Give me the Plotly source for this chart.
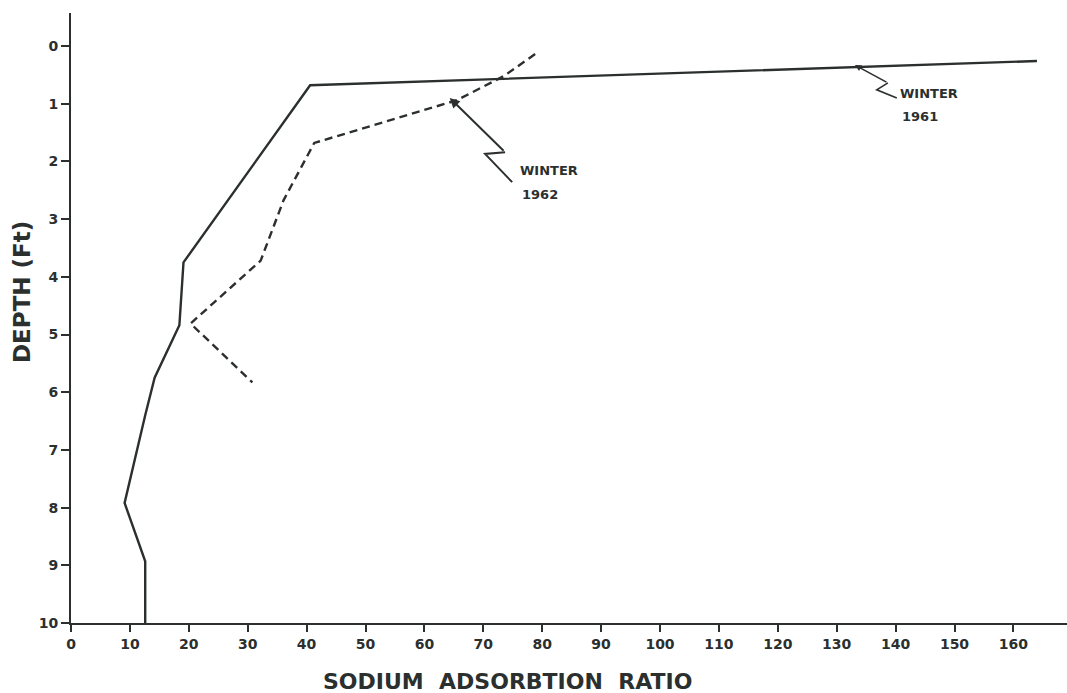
import plotly.graph_objects as go

# Winter 1961 (solid)
sar_1961 = [164, 40.6, 19.1, 18.4, 14.2, 12.6, 9.1, 12.6, 12.6]
depth_1961 = [0.26, 0.68, 3.75, 4.84, 5.75, 6.4, 7.92, 8.93, 10.0]

# Winter 1962 (dashed)
sar_1962 = [78.8, 73.5, 65.5, 41.3, 36.1, 32.2, 20.3, 30.8]
depth_1962 = [0.14, 0.52, 0.94, 1.68, 2.67, 3.72, 4.81, 5.83]

x_ticks = list(range(0, 170, 10))
y_ticks = list(range(0, 11))

ink = "#2b2f2e"
fig = go.Figure()
fig.add_trace(go.Scatter(x=sar_1961, y=depth_1961, mode="lines",
                         line=dict(color=ink, width=2.4), showlegend=False))
fig.add_trace(go.Scatter(x=sar_1962, y=depth_1962, mode="lines",
                         line=dict(color=ink, width=2.4, dash="8px,5px"), showlegend=False))

# Zigzag leader for WINTER 1962
fig.add_annotation(x=64.3, y=0.90, ax=73.7, ay=1.84, xref="x", yref="y", axref="x", ayref="y",
                   text="", showarrow=True, arrowhead=2, arrowsize=1, arrowwidth=2, arrowcolor=ink)
fig.add_shape(type="path", path="M 73.7 1.84 L 70.3 1.87 L 74.9 2.36", xref="x", yref="y",
              line=dict(color=ink, width=2))
# Zigzag leader for WINTER 1961
fig.add_annotation(x=133.1, y=0.33, ax=138.7, ay=0.64, xref="x", yref="y", axref="x", ayref="y",
                   text="", showarrow=True, arrowhead=2, arrowsize=0.8, arrowwidth=1.6, arrowcolor=ink)
fig.add_shape(type="path", path="M 138.7 0.64 L 136.8 0.76 L 140.2 0.90", xref="x", yref="y",
              line=dict(color=ink, width=1.6))

lab_font = dict(family="DejaVu Sans", size=13, color=ink)
fig.add_annotation(x=75.9, y=2.15, text="<b>WINTER</b>", showarrow=False, xanchor="left", yanchor="middle", font=lab_font)
fig.add_annotation(x=76.2, y=2.57, text="<b>1962</b>", showarrow=False, xanchor="left", yanchor="middle", font=lab_font)
fig.add_annotation(x=140.4, y=0.82, text="<b>WINTER</b>", showarrow=False, xanchor="left", yanchor="middle", font=lab_font)
fig.add_annotation(x=140.7, y=1.23, text="<b>1961</b>", showarrow=False, xanchor="left", yanchor="middle", font=lab_font)

# Axis titles
fig.add_annotation(x=507, y=681, xref="paper", yref="paper", text="<b>SODIUM  ADSORBTION  RATIO</b>",
                   showarrow=False, xanchor="center", yanchor="middle",
                   font=dict(family="DejaVu Sans", size=22, color=ink))
fig.add_annotation(x=22, y=292, xref="paper", yref="paper", text="<b>DEPTH (Ft)</b>", textangle=-90,
                   showarrow=False, xanchor="center", yanchor="middle",
                   font=dict(family="DejaVu Sans", size=23, color=ink))

W, H = 1067, 693
L, R, T, B = 71, 0, 13, 70
pw, ph = W - L - R, H - T - B
# convert paper-pixel annotations to paper fractions
for a in fig.layout.annotations:
    if a.xref == "paper":
        a.x = (a.x - L) / pw
        a.y = 1 - (a.y - T) / ph

tick_font = dict(family="DejaVu Sans", size=14, color=ink)
fig.update_layout(
    width=W, height=H,
    margin=dict(l=L, r=R, t=T, b=B),
    plot_bgcolor="white", paper_bgcolor="white",
    xaxis=dict(range=[0, 169.1], tickvals=x_ticks, ticktext=["<b>%d</b>" % v for v in x_ticks],
               showgrid=False, zeroline=False, showline=True, linecolor=ink, linewidth=2,
               ticks="outside", ticklen=7, tickwidth=1.5, tickcolor=ink, tickfont=tick_font),
    yaxis=dict(range=[10, -0.572], tickvals=y_ticks, ticktext=["<b>%d</b>" % v for v in y_ticks],
               showgrid=False, zeroline=False, showline=True, linecolor=ink, linewidth=2,
               ticks="outside", ticklen=8, tickwidth=1.5, tickcolor=ink, tickfont=tick_font),
)

fig.write_html("out.html")
